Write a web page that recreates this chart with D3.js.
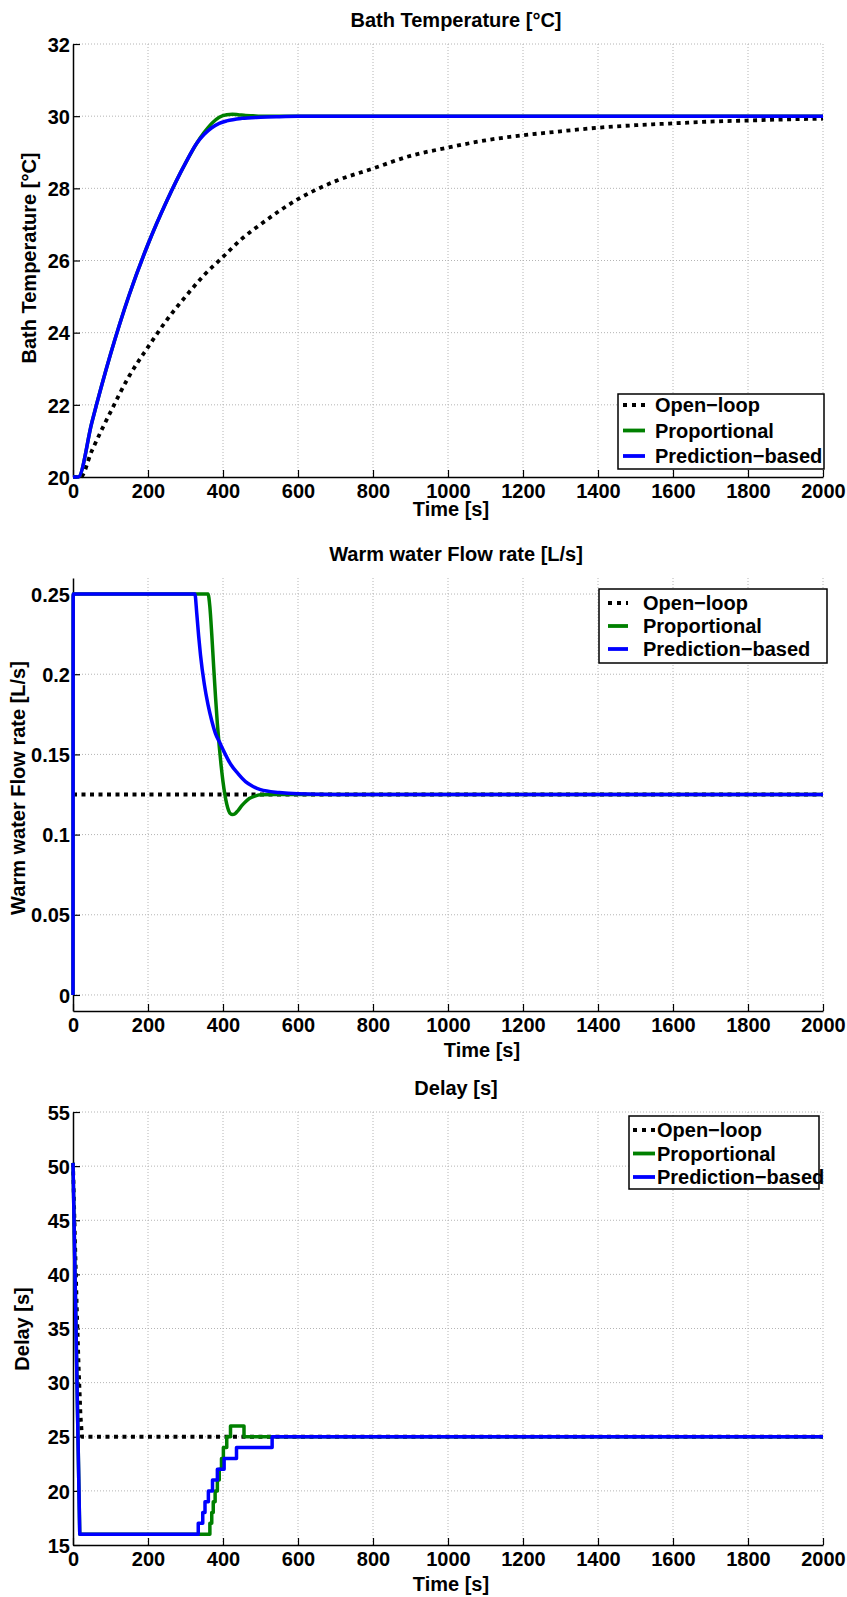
<!DOCTYPE html>
<html><head><meta charset="utf-8">
<script src="https://cdn.jsdelivr.net/npm/d3@7"></script>
<style>
body{margin:0;background:#fff}
text{font-family:"Liberation Sans",Arial,Helvetica,sans-serif;font-weight:bold;fill:#000}
</style>
</head><body>
<svg id="c" width="847" height="1597"></svg>
<script>
// ---------- DATA ----------
const seriesNames = ["Open\u2212loop", "Proportional", "Prediction\u2212based"];
const timeTicks = [0,200,400,600,800,1000,1200,1400,1600,1800,2000];

// Panel 1: Bath temperature [°C]
const tempTicks = [20,22,24,26,28,30,32];
const tempOpenT = [0,20,50,100,150,200,250,300,350,400,450,500,600,700,800,900,1000,1100,1200,1300,1400,1500,1600,1700,1800,1900,2000];
const tempOpenV = [20,20,20.72,21.8,22.8,23.6,24.35,25.0,25.6,26.1,26.6,27.0,27.7,28.2,28.55,28.9,29.13,29.33,29.47,29.58,29.68,29.75,29.8,29.85,29.88,29.91,29.93];
const tempPropT = [0,14,50,100,150,200,250,300,330,350,370,390,410,425,440,460,480,500,600,2000];
const tempPropV = [20,20,21.5,23.4,25.05,26.45,27.65,28.7,29.25,29.55,29.8,29.97,30.04,30.05,30.04,30.02,30.01,30.0,30.0,30.0];
const tempPredT = [0,14,50,100,150,200,250,300,330,350,370,390,410,450,500,550,600,700,2000];
const tempPredV = [20,20,21.5,23.4,25.05,26.45,27.65,28.7,29.25,29.5,29.68,29.8,29.87,29.94,29.97,29.985,29.995,30,30];

// Panel 2: Warm water flow rate [L/s]
const flowTicks = [0,0.05,0.1,0.15,0.2,0.25];
const flowOpenT = [0,2000];
const flowOpenV = [0.125,0.125];
const flowPropT = [0,0.5,360,365,370,375,380,385,390,395,400,405,410,415,420,425,432,440,450,460,470,485,500,530,2000];
const flowPropV = [0,0.25,0.25,0.242,0.225,0.205,0.186,0.169,0.155,0.143,0.133,0.125,0.119,0.115,0.113,0.1125,0.113,0.115,0.118,0.1205,0.1225,0.124,0.1248,0.125,0.125];
const flowPredT = [0,0.5,325,330,335,340,350,360,370,380,390,400,420,440,460,480,500,550,600,700,2000];
const flowPredV = [0,0.25,0.25,0.238,0.224,0.212,0.194,0.181,0.171,0.163,0.158,0.153,0.144,0.138,0.133,0.13,0.128,0.1262,0.1254,0.125,0.125];

// Panel 3: Delay [s]  (first two points: ramp, then step changes)
const delayTicks = [15,20,25,30,35,40,45,50,55];
const delayOpenT = [0,5,10,15,20,24,2000];
const delayOpenV = [50.3,43.5,37,31.5,27,25,25];
const delayPropT = [0,18,365,370,374,379,385,390,396,401,410,420,456,2000];
const delayPropV = [50.3,16,17,18,19,20,21,22,23,24,25,26,25,25];
const delayPredT = [0,18,334,346,352,361,372,385,403,436,531,2000];
const delayPredV = [50.3,16,17,18,19,20,21,22,23,24,25,25];

// ---------- HELPERS ----------
const zip = (T,V) => T.map((t,i)=>[t,V[i]]);
function steps(T,V){ // ramp between first two points, then step-after
  const p=[[T[0],V[0]],[T[1],V[1]]];
  for(let i=2;i<T.length;i++){ p.push([T[i],V[i-1]]); p.push([T[i],V[i]]); }
  return p;
}

const svg = d3.select("#c");
const colors = ["#000000","#008000","#0000ff"];
const X0 = 73, X1 = 823, PH = 433;

function panel(cfg){
  const x = d3.scaleLinear().domain([0,2000]).range([X0,X1]);
  const y = d3.scaleLinear().domain(cfg.domain).range([cfg.top+PH, cfg.top]);
  const g = svg.append("g");
  // grid
  g.append("g").selectAll("line").data(timeTicks.slice(1)).join("line")
    .attr("x1",d=>x(d)).attr("x2",d=>x(d)).attr("y1",cfg.top).attr("y2",cfg.top+PH)
    .attr("stroke","#b4b4b4").attr("stroke-width",1).attr("stroke-dasharray","1,2");
  g.append("g").selectAll("line").data(cfg.ticks.filter(v=>v!==cfg.domain[0])).join("line")
    .attr("x1",X0).attr("x2",X1).attr("y1",d=>y(d)).attr("y2",d=>y(d))
    .attr("stroke","#b4b4b4").attr("stroke-width",1).attr("stroke-dasharray","1,2");
  // axes
  const xa = d3.axisBottom(x).tickValues(timeTicks).tickSizeInner(-7).tickSizeOuter(0).tickPadding(14).tickFormat(d3.format("d"));
  const ya = d3.axisLeft(y).tickValues(cfg.ticks).tickSizeInner(-7).tickSizeOuter(0).tickPadding(10).tickFormat(cfg.fmt);
  const gx = g.append("g").attr("transform",`translate(0,${cfg.top+PH})`).call(xa);
  const gy = g.append("g").attr("transform",`translate(${X0},0)`).call(ya);
  [gx,gy].forEach(a=>{
    a.select(".domain").attr("stroke","#000").attr("stroke-width",1.5);
    a.selectAll(".tick line").attr("stroke","#000").attr("stroke-width",1.2);
    a.selectAll(".tick text").attr("font-size",20).attr("font-family","Liberation Sans, Arial, sans-serif").attr("font-weight","bold").attr("fill","#000");
  });
  gx.selectAll(".tick text").attr("dy",null).attr("y",21).attr("dominant-baseline","auto");
  gy.selectAll(".tick text").attr("dy","0.36em").attr("x",-3);
  // lines
  const line = cfg.curve ? d3.line().x(d=>x(d[0])).y(d=>y(d[1])).curve(cfg.curve)
                         : d3.line().x(d=>x(d[0])).y(d=>y(d[1]));
  cfg.series.forEach((s,i)=>{
    const p = g.append("path").datum(s).attr("d",line).attr("fill","none")
      .attr("stroke",colors[i]).attr("stroke-width",3.5).attr("stroke-linejoin","round");
    if(i===0) p.attr("stroke-dasharray","4,4.5").attr("stroke-width",3.8);
  });
  // title & labels
  g.append("text").attr("x",456).attr("y",cfg.top-17).attr("text-anchor","middle").attr("font-size",20).text(cfg.title);
  g.append("text").attr("x",cfg.xlabX).attr("y",cfg.top+PH+cfg.xlabDy).attr("text-anchor","middle").attr("font-size",20).text("Time [s]");
  g.append("text").attr("transform",`translate(${cfg.ylabX},${cfg.ylabY}) rotate(-90)`).attr("text-anchor","middle").attr("font-size",20).text(cfg.title);
  // legend
  const L = cfg.legend;
  g.append("rect").attr("x",L.x0).attr("y",L.y0).attr("width",L.x1-L.x0).attr("height",L.y1-L.y0)
    .attr("fill","#fff").attr("stroke","#000").attr("stroke-width",1.5);
  seriesNames.forEach((n,i)=>{
    const yy = L.row0 + i*L.dy;
    const ln = g.append("line").attr("x1",L.s0).attr("x2",L.s1).attr("y1",yy).attr("y2",yy)
      .attr("stroke",colors[i]).attr("stroke-width",3.8);
    if(i===0) ln.attr("stroke-dasharray","4,5");
    g.append("text").attr("x",L.tx).attr("y",yy+7).attr("font-size",20).text(n);
  });
}

panel({top:44, domain:[20,32], ticks:tempTicks, fmt:d3.format("d"),
  title:"Bath Temperature [\u00B0C]", xlabX:451, xlabDy:39, ylabX:36, ylabY:258,
  curve:d3.curveMonotoneX,
  series:[zip(tempOpenT,tempOpenV), zip(tempPropT,tempPropV), zip(tempPredT,tempPredV)],
  legend:{x0:618,x1:824,y0:394,y1:469,row0:405,dy:25.5,s0:623,s1:645,tx:655}});

panel({top:578, domain:[-0.01,0.26], ticks:flowTicks, fmt:d=>d3.format("~g")(d),
  title:"Warm water Flow rate [L/s]", xlabX:482, xlabDy:46, ylabX:25, ylabY:788,
  curve:d3.curveMonotoneX,
  series:[zip(flowOpenT,flowOpenV), zip(flowPropT,flowPropV), zip(flowPredT,flowPredV)],
  legend:{x0:599,x1:827,y0:589,y1:663,row0:603,dy:23,s0:608,s1:628,tx:643}});

panel({top:1112, domain:[15,55], ticks:delayTicks, fmt:d3.format("d"),
  title:"Delay [s]", xlabX:451, xlabDy:46, ylabX:29, ylabY:1329,
  curve:null,
  series:[zip(delayOpenT,delayOpenV), steps(delayPropT,delayPropV), steps(delayPredT,delayPredV)],
  legend:{x0:629,x1:819,y0:1116,y1:1189,row0:1130,dy:23.5,s0:633,s1:655,tx:657}});
</script>
</body></html>
